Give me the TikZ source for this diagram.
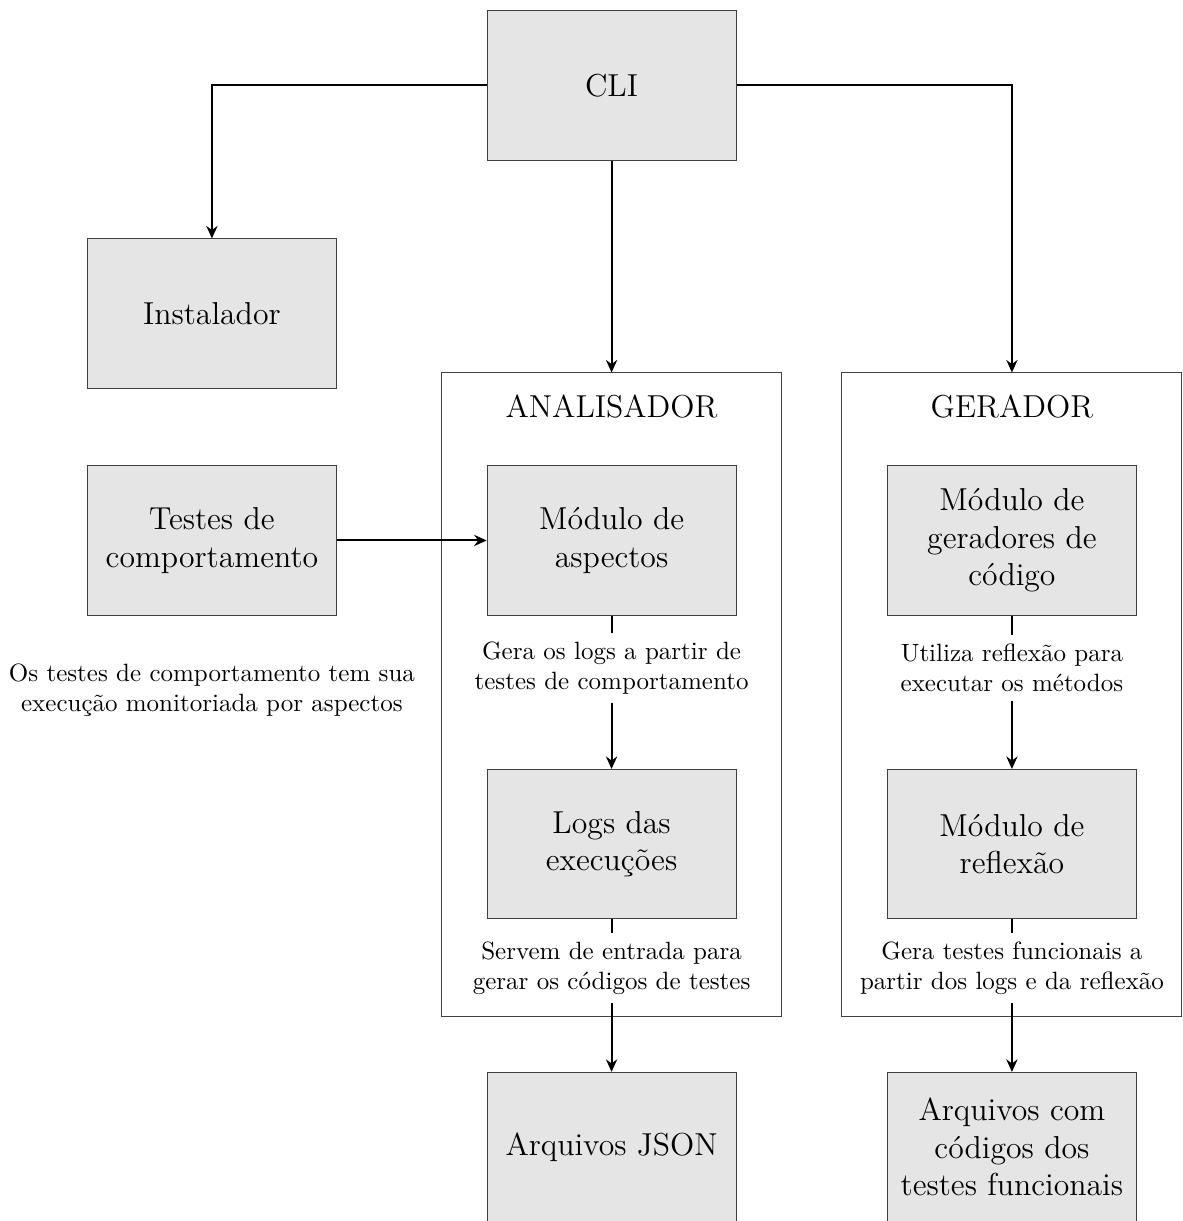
\documentclass[tikz,border=0pt]{standalone}
\usepackage{tikz}
\usepackage{amsmath}
\usetikzlibrary{arrows.meta}

\begin{document}
\begin{tikzpicture}[
  box/.style={draw=black!75, fill=gray!20, minimum width=3.5cm, minimum height=2.1cm, align=center, font=\fontsize{12.7}{15}\selectfont},
  group/.style={draw=black!75, minimum width=4.78cm, minimum height=9.05cm},
  grouptitle/.style={font=\fontsize{12.7}{15}\selectfont},
  note/.style={align=center},
  flow/.style={thick, -{Stealth[length=5pt,width=4.5pt]}},
  link/.style={thick}]
  \useasboundingbox (0,0) rectangle (16.63,-17.17);
  \node [group] (ana) at (8.60,-9.77) {};
  \node [group] (ger) at (14.23,-9.77) {};
  \node [grouptitle] (anat) at (8.60,-5.71) {ANALISADOR};
  \node [grouptitle] (gert) at (14.23,-5.71) {GERADOR};
  \node [box] (cli) at (8.60,-1.20) {CLI};
  \node [box] (inst) at (2.98,-4.41) {Instalador};
  \node [box] (testes) at (2.98,-7.60) {Testes de\\comportamento};
  \node [note] (testesnote) at (2.98,-9.70) {Os testes de comportamento tem sua\\execução monitoriada por aspectos};
  \node [box] (asp) at (8.60,-7.60) {Módulo de\\aspectos};
  \node [note] (asplbl) at (8.60,-9.39) {Gera os logs a partir de\\testes de comportamento};
  \node [box] (logs) at (8.60,-11.87) {Logs das\\execuções};
  \node [note] (logslbl) at (8.60,-13.61) {Servem de entrada para\\gerar os códigos de testes};
  \node [box] (json) at (8.60,-16.13) {Arquivos JSON};
  \node [box] (gen) at (14.23,-7.60) {Módulo de\\geradores de\\código};
  \node [note] (genlbl) at (14.23,-9.39) {Utiliza reflexão para\\executar os métodos};
  \node [box] (refl) at (14.23,-11.87) {Módulo de\\reflexão};
  \node [note] (refllbl) at (14.23,-13.61) {Gera testes funcionais a\\partir dos logs e da reflexão};
  \node [box] (arqs) at (14.23,-16.13) {Arquivos com\\códigos dos\\testes funcionais};
  \draw [flow] (cli.west) -| (inst.north);
  \draw [flow] (cli.south) -- (ana.north);
  \draw [flow] (cli.east) -| (ger.north);
  \draw [flow] (testes.east) -- (asp.west);
  \draw [link] (asp.south) -- (asplbl.north);
  \draw [flow] (asplbl.south) -- (logs.north);
  \draw [link] (logs.south) -- (logslbl.north);
  \draw [flow] (logslbl.south) -- (json.north);
  \draw [link] (gen.south) -- (genlbl.north);
  \draw [flow] (genlbl.south) -- (refl.north);
  \draw [link] (refl.south) -- (refllbl.north);
  \draw [flow] (refllbl.south) -- (arqs.north);
\end{tikzpicture}
\end{document}
